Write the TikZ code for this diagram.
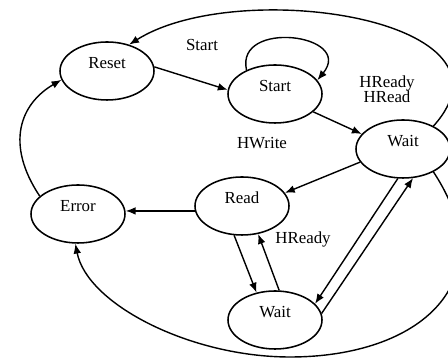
\documentclass[tikz,border=0pt]{standalone}
\usepackage{fontspec}
\setmainfont{Liberation Serif}
\usetikzlibrary{arrows.meta,shapes.geometric}

\begin{document}
\begin{tikzpicture}[x=0.025cm,y=0.025cm,font=\fontsize{12}{14}\selectfont,
  state/.style={ellipse,draw,line width=1.1pt,minimum width=2.35cm,minimum height=1.45cm,text height=0.3cm,text depth=0.42cm},
  edge/.style={line width=1pt,-{Latex[length=7pt,width=5.5pt]}}]
  \useasboundingbox (0,0) rectangle (448,359);
  \node[state] (reset) at (107,288) {Reset};
  \node[state] (start) at (275,265) {Start};
  \node[state] (waitA) at (403,210) {Wait};
  \node[state] (read) at (242,153) {Read};
  \node[state] (error) at (78,145) {Error};
  \node[state] (waitB) at (275,39) {Wait};
  \coordinate (lowbend) at (290,2);
  \draw[edge] (reset.5) -- (start.175);
  \draw[edge] (start.140) .. controls (235,340) and (355,325) .. (start.18);
  \draw[edge] (start.-25) -- (waitA.160);
  \draw[edge] (waitA.37) .. controls (530,340) and (238,383) .. (reset.50);
  \draw[edge] (waitA.197) -- (read.17);
  \draw[edge] (read.186) -- (read.186 -| error.east);
  \draw[edge] (error.155) .. controls (5,215) and (20,255) .. (reset.191);
  \draw[edge] (read.255) -- (waitB.124);
  \draw[edge] (waitB.82) -- (read.-60);
  \draw[edge] (waitA.260) -- (waitB.22);
  \draw[edge] (waitB.8) -- (waitA.-71);
  \draw[edge] (waitA.-37) .. controls (506,77) and (420,2) .. (lowbend)
    .. controls (190,2) and (87,55) .. (error.265);
  \node (lblStart) at (202,314) {Start};
  \node[align=center] (lblHReadyHRead) at (387,270) {HReady\\[-3.5pt]HRead};
  \node (lblHWrite) at (262,216) {HWrite};
  \node (lblHReady) at (303,120) {HReady};
\end{tikzpicture}
\end{document}
